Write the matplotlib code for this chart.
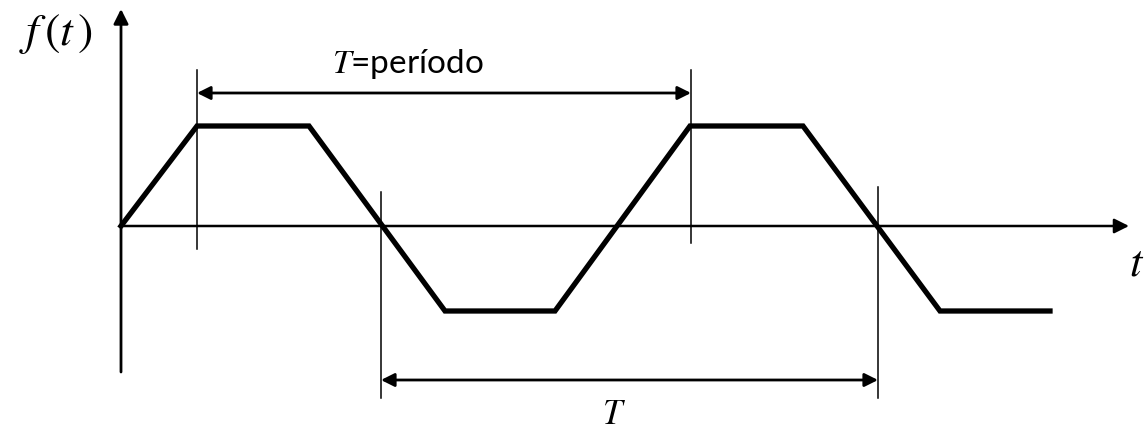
import matplotlib
matplotlib.use("Agg")
import matplotlib.pyplot as plt

plt.rcParams['mathtext.fontset'] = 'stix'

# trapezoidal wave: breakpoints (time units) and amplitude
t_points = [0, 1.52, 3.76, 6.48, 8.68, 11.38, 13.64, 16.38, 18.58]
f_points = [0, 1, 1, -0.85, -0.85, 1, 1, -0.85, -0.85]

# guide lines at the period marks: (t, f_top, f_bottom)
guides = [(1.52, 1.56, -0.23), (11.40, 1.56, -0.17),
          (5.20, 0.34, -1.72), (15.14, 0.39, -1.72)]

# period dimension arrows: (t_start, t_end, f_level)
period_arrows = [(1.52, 11.40, 1.33), (5.20, 15.14, -1.54)]

fig = plt.figure(figsize=(11.46, 4.29), dpi=100)
ax = fig.add_axes([0, 0, 1, 1])
ax.set_xlim(-2.42, 20.5)
ax.set_ylim(-2.03, 2.26)
ax.axis('off')

# axes with arrowheads
ax.annotate('', xy=(0, 2.17), xytext=(0, -1.46),
            arrowprops=dict(arrowstyle='-|>', color='black', lw=2.0,
                            mutation_scale=22, shrinkA=0, shrinkB=0))
ax.annotate('', xy=(20.16, 0), xytext=(0, 0),
            arrowprops=dict(arrowstyle='-|>', color='black', lw=1.8,
                            mutation_scale=22, shrinkA=0, shrinkB=0))

for tg, top, bot in guides:
    ax.plot([tg, tg], [bot, top], color='black', lw=1.1)

for t0, t1, lev in period_arrows:
    ax.annotate('', xy=(t1, lev), xytext=(t0, lev),
                arrowprops=dict(arrowstyle='<|-|>', color='black', lw=2.0,
                                mutation_scale=20, shrinkA=0, shrinkB=0))

ax.plot(t_points, f_points, color='black', lw=3.8, solid_joinstyle='miter')

ax.text(-1.3, 1.93, r'$f\,(t\,)$', fontsize=33, ha='center', va='center')
ax.text(20.32, -0.37, r'$t$', fontsize=32, ha='center', va='center')
ax.text(5.74, 1.53, r'$T$=período', fontsize=24, ha='center', va='baseline',
        family='Lato')
ax.text(9.86, -1.88, r'$T$', fontsize=25, ha='center', va='center')

fig.savefig('out.png', dpi=100)
